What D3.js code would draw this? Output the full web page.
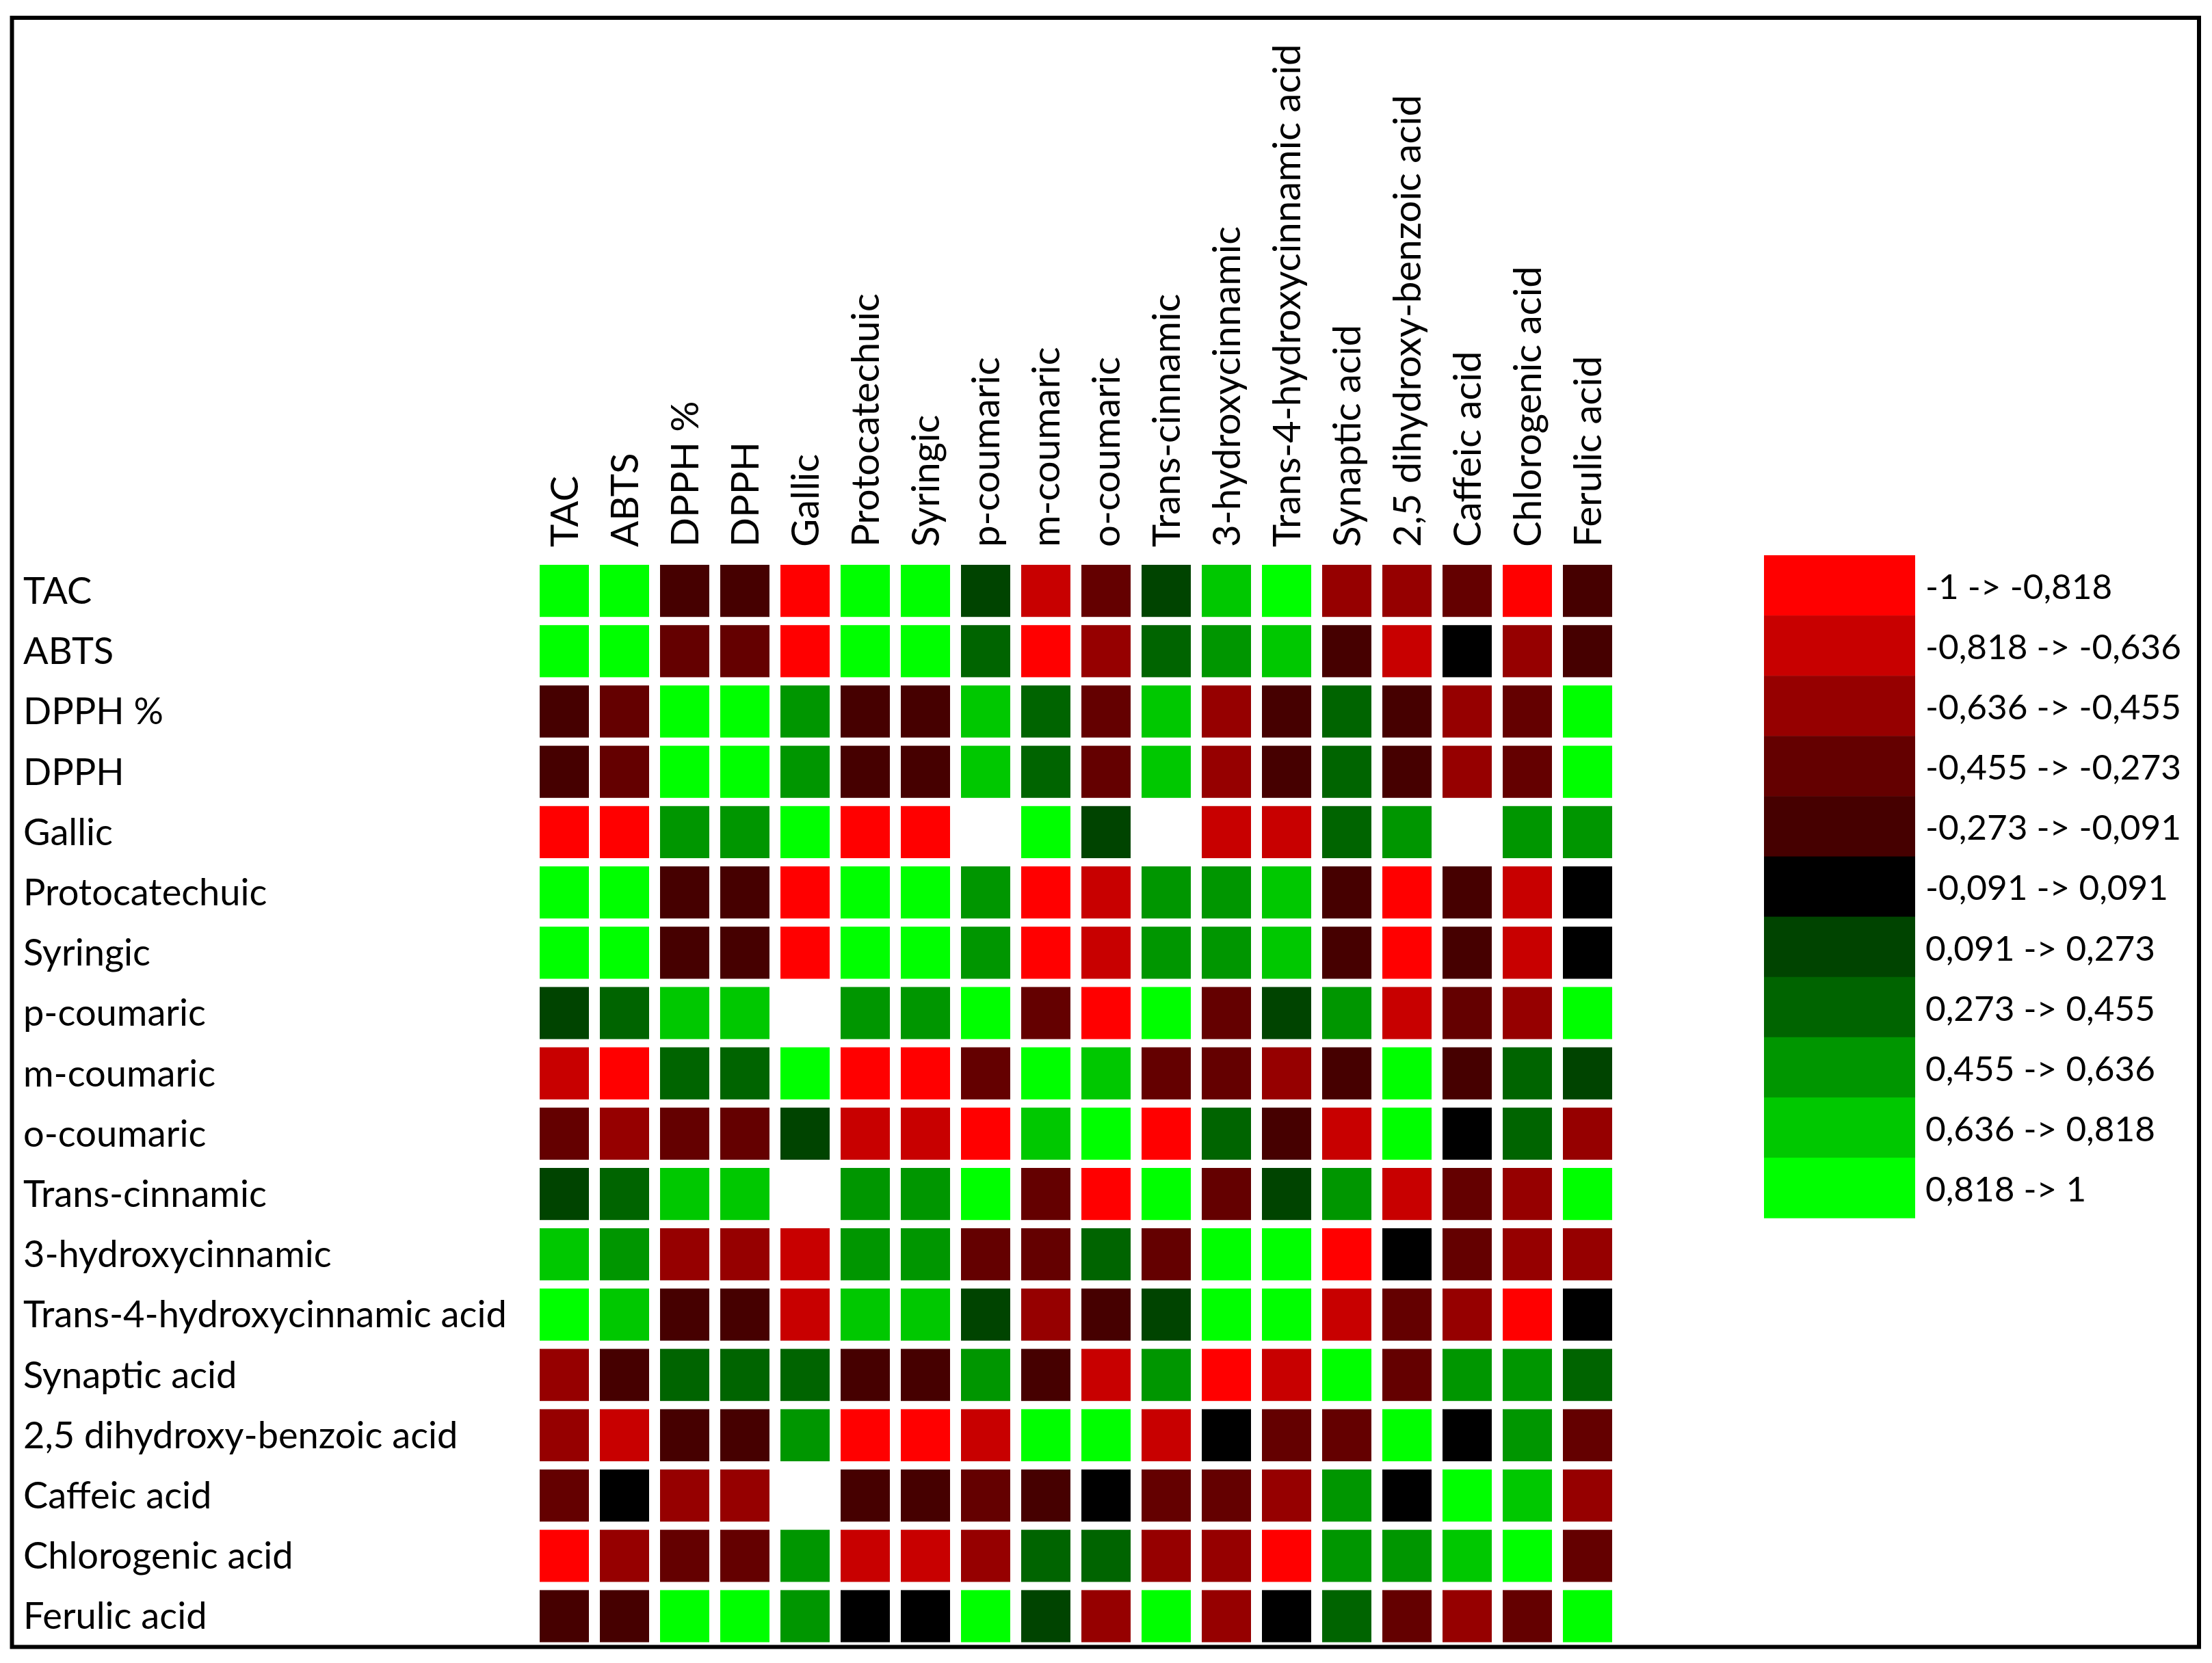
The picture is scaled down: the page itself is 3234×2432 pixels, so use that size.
<!DOCTYPE html>
<html>
<head>
<meta charset="utf-8">
<script src="https://cdn.jsdelivr.net/npm/d3@7"></script>
<style>
  html, body { margin: 0; padding: 0; background: #fff; }
  svg { display: block; }
</style>
</head>
<body>
<svg id="chart" width="3234" height="2432"></svg>
<script>
// ---------- data ----------
const variables = [
  "TAC", "ABTS", "DPPH %", "DPPH", "Gallic", "Protocatechuic", "Syringic",
  "p-coumaric", "m-coumaric", "o-coumaric", "Trans-cinnamic", "3-hydroxycinnamic",
  "Trans-4-hydroxycinnamic acid", "Synaptic acid", "2,5 dihydroxy-benzoic acid",
  "Caffeic acid", "Chlorogenic acid", "Ferulic acid"
];

// correlation coefficients (estimated from colour classes), null = not shown
const corr = [
  [1, .91, -.18, -.18, -.91, .91, .91, .18, -.73, -.36, .18, .73, .91, -.55, -.55, -.36, -.91, -.18],
  [.91, 1, -.36, -.36, -.91, .91, .91, .36, -.91, -.55, .36, .55, .73, -.18, -.73, 0, -.55, -.18],
  [-.18, -.36, 1, .91, .55, -.18, -.18, .73, .36, -.36, .73, -.55, -.18, .36, -.18, -.55, -.36, .91],
  [-.18, -.36, .91, 1, .55, -.18, -.18, .73, .36, -.36, .73, -.55, -.18, .36, -.18, -.55, -.36, .91],
  [-.91, -.91, .55, .55, 1, -.91, -.91, null, .91, .18, null, -.73, -.73, .36, .55, null, .55, .55],
  [.91, .91, -.18, -.18, -.91, 1, .91, .55, -.91, -.73, .55, .55, .73, -.18, -.91, -.18, -.73, 0],
  [.91, .91, -.18, -.18, -.91, .91, 1, .55, -.91, -.73, .55, .55, .73, -.18, -.91, -.18, -.73, 0],
  [.18, .36, .73, .73, null, .55, .55, 1, -.36, -.91, .91, -.36, .18, .55, -.73, -.36, -.55, .91],
  [-.73, -.91, .36, .36, .91, -.91, -.91, -.36, 1, .73, -.36, -.36, -.55, -.18, .91, -.18, .36, .18],
  [-.36, -.55, -.36, -.36, .18, -.73, -.73, -.91, .73, 1, -.91, .36, -.18, -.73, .91, 0, .36, -.55],
  [.18, .36, .73, .73, null, .55, .55, .91, -.36, -.91, 1, -.36, .18, .55, -.73, -.36, -.55, .91],
  [.73, .55, -.55, -.55, -.73, .55, .55, -.36, -.36, .36, -.36, 1, .91, -.91, 0, -.36, -.55, -.55],
  [.91, .73, -.18, -.18, -.73, .73, .73, .18, -.55, -.18, .18, .91, 1, -.73, -.36, -.55, -.91, 0],
  [-.55, -.18, .36, .36, .36, -.18, -.18, .55, -.18, -.73, .55, -.91, -.73, 1, -.36, .55, .55, .36],
  [-.55, -.73, -.18, -.18, .55, -.91, -.91, -.73, .91, .91, -.73, 0, -.36, -.36, 1, 0, .55, -.36],
  [-.36, 0, -.55, -.55, null, -.18, -.18, -.36, -.18, 0, -.36, -.36, -.55, .55, 0, 1, .73, -.55],
  [-.91, -.55, -.36, -.36, .55, -.73, -.73, -.55, .36, .36, -.55, -.55, -.91, .55, .55, .73, 1, -.36],
  [-.18, -.18, .91, .91, .55, 0, 0, .91, .18, -.55, .91, -.55, 0, .36, -.36, -.55, -.36, 1]
];

const thresholds = [-0.818, -0.636, -0.455, -0.273, -0.091, 0.091, 0.273, 0.455, 0.636, 0.818];
const binColors = ["#ff0000", "#c80000", "#960000", "#640000", "#460000", "#000000",
                   "#004400", "#006400", "#009600", "#00c800", "#00ff00"];
const legendLabels = [
  "-1 -> -0,818", "-0,818 -> -0,636", "-0,636 -> -0,455", "-0,455 -> -0,273",
  "-0,273 -> -0,091", "-0,091 -> 0,091", "0,091 -> 0,273", "0,273 -> 0,455",
  "0,455 -> 0,636", "0,636 -> 0,818", "0,818 -> 1"
];

// ---------- layout ----------
const svg = d3.select("#chart");
const FONT = "Lato, 'Open Sans', sans-serif";

svg.append("rect").attr("width", 3234).attr("height", 2432).attr("fill", "#fff");

function fitSize(str, target) {
  const probe = svg.append("text").attr("font-family", FONT).attr("font-size", 100).text(str);
  const w = probe.node().getComputedTextLength();
  probe.remove();
  return 100 * target / w;
}
const fsRow = fitSize("Trans-4-hydroxycinnamic acid", 707);
const fsCol = fitSize("Trans-4-hydroxycinnamic acid", 736);
const fsLeg = fitSize("-0,818 -> -0,636", 374);
const cap = s => s * 0.70;

const colPitch = 88, colGap = 16, x0 = 789;
const rowPitch = 88.2, rowGap = 12, y0 = 826;
const n = variables.length;

const x = d3.scaleBand().domain(variables)
  .range([x0 - colGap / 2, x0 - colGap / 2 + n * colPitch])
  .paddingInner(colGap / colPitch).paddingOuter(colGap / 2 / colPitch);
const y = d3.scaleBand().domain(variables)
  .range([y0 - rowGap / 2, y0 - rowGap / 2 + n * rowPitch])
  .paddingInner(rowGap / rowPitch).paddingOuter(rowGap / 2 / rowPitch);

const color = d3.scaleThreshold().domain(thresholds).range(binColors);

// cells
const cells = [];
corr.forEach((row, i) => row.forEach((v, j) => {
  if (v !== null) cells.push({ r: variables[i], c: variables[j], v });
}));

svg.append("g").selectAll("rect").data(cells).join("rect")
  .attr("x", d => x(d.c))
  .attr("y", d => y(d.r))
  .attr("width", x.bandwidth())
  .attr("height", y.bandwidth())
  .attr("fill", d => color(d.v));

// row labels
svg.append("g").selectAll("text").data(variables).join("text")
  .attr("x", 34)
  .attr("y", d => y(d) + y.bandwidth() / 2 + cap(fsRow) / 2)
  .attr("font-family", FONT).attr("font-size", fsRow).attr("fill", "#000")
  .text(d => d);

// column labels (rotated)
svg.append("g").selectAll("text").data(variables).join("text")
  .attr("transform", d => `translate(${x(d) + x.bandwidth() / 2 + cap(fsCol) / 2},800) rotate(-90)`)
  .attr("font-family", FONT).attr("font-size", fsCol).attr("fill", "#000")
  .text(d => d);

// legend
const ly = d3.scaleBand().domain(legendLabels).range([812, 812 + 11 * 88.1]);
const lg = svg.append("g");
lg.selectAll("rect").data(legendLabels).join("rect")
  .attr("x", 2579).attr("y", d => ly(d))
  .attr("width", 221).attr("height", ly.bandwidth() + 0.5)
  .attr("fill", (d, i) => binColors[i]);
lg.selectAll("text").data(legendLabels).join("text")
  .attr("x", 2815)
  .attr("y", d => ly(d) + ly.bandwidth() / 2 + cap(fsLeg) / 2 + 2)
  .attr("font-family", FONT).attr("font-size", fsLeg).attr("fill", "#000")
  .text(d => d);

// frame
svg.append("rect")
  .attr("x", 17.5).attr("y", 26)
  .attr("width", 3215 - 17.5).attr("height", 2408.5 - 26)
  .attr("fill", "none").attr("stroke", "#000").attr("stroke-width", 6);
</script>
</body>
</html>
